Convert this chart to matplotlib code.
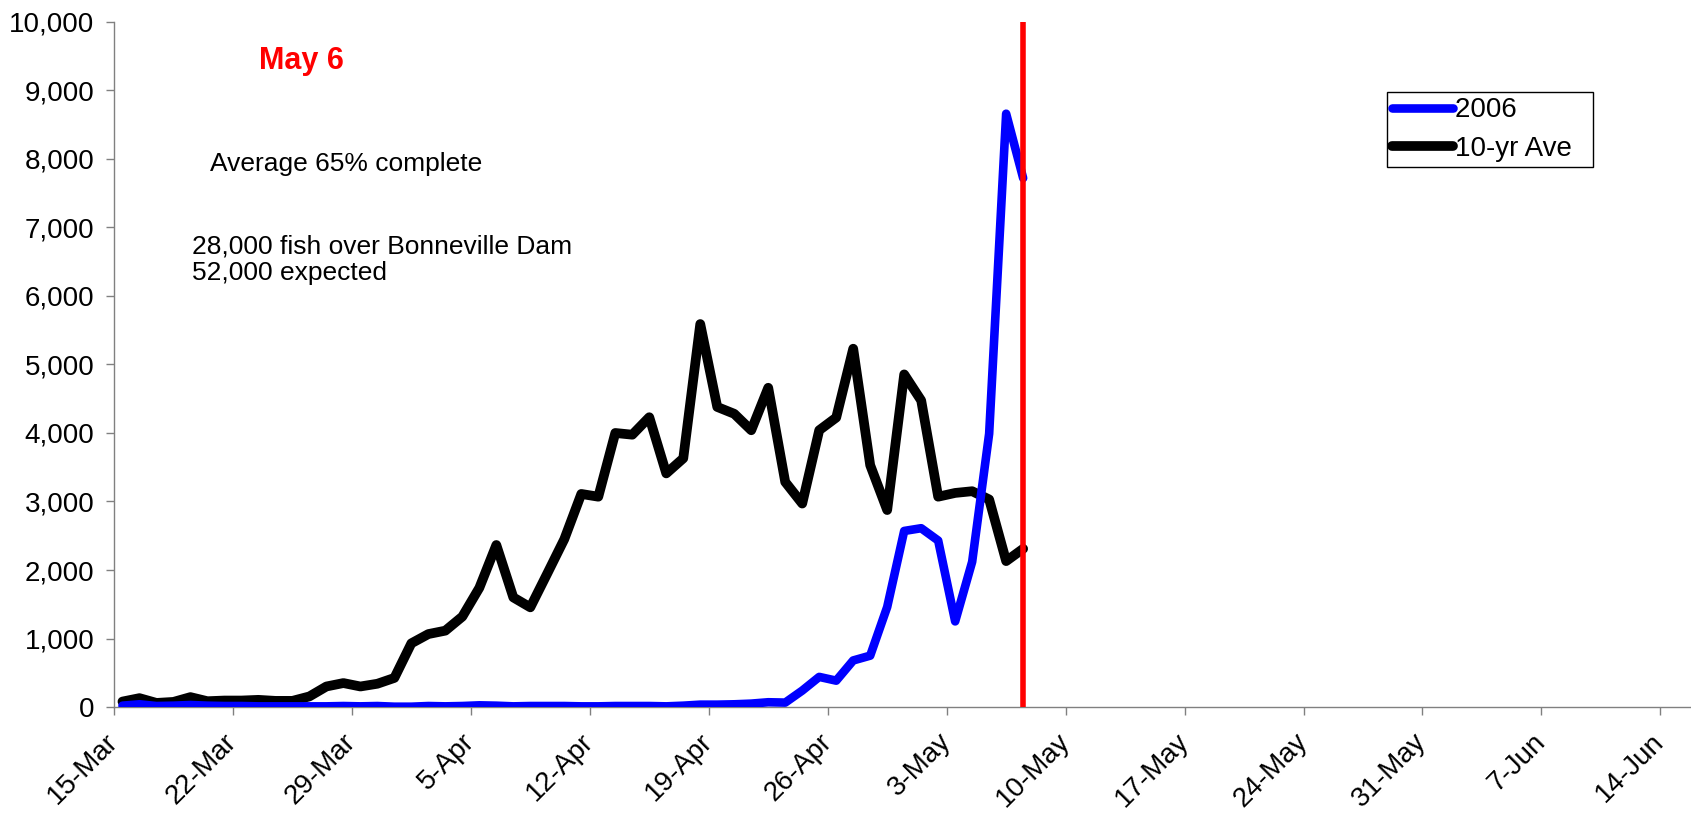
import matplotlib.pyplot as plt
import matplotlib.dates as mdates
import pandas as pd
from matplotlib.ticker import FuncFormatter, MultipleLocator

plt.rcParams['font.family'] = ['Liberation Sans', 'DejaVu Sans']

# daily counts at Bonneville Dam, starting 15-Mar
dates = pd.date_range('2006-03-15', periods=54, freq='D')

counts_2006 = [20, 40, 15, 20, 30, 20, 15, 15, 10, 10,
               10, 10, 10, 15, 10, 15, 5, 5, 15, 10,
               15, 25, 20, 10, 15, 15, 15, 10, 10, 15,
               15, 15, 10, 20, 35, 35, 40, 50, 70, 65,
               240, 440, 385, 680, 750, 1460, 2570, 2610, 2430, 1250,
               2120, 3990, 8660, 7720]

counts_avg = [80, 130, 60, 75, 145, 85, 95, 95, 105, 90,
              90, 155, 300, 350, 300, 340, 425, 930, 1065, 1115,
              1320, 1740, 2365, 1600, 1455, 1950, 2450, 3110, 3070, 4000,
              3975, 4230, 3410, 3630, 5590, 4380, 4280, 4040, 4660, 3285,
              2970, 4040, 4225, 5230, 3530, 2875, 4855, 4475, 3070, 3125,
              3150, 3030, 2130, 2310]

tick_dates = pd.date_range('2006-03-15', '2006-06-14', freq='7D')
tick_labels = [f"{d.day}-{d:%b}" for d in tick_dates]

fig = plt.figure(figsize=(16.91, 8.14), dpi=100)
ax = fig.add_axes([0.0674, 0.1314, 0.9326, 0.8417])

# each day's point sits in the middle of its date slot
x = mdates.date2num(dates) + 0.5
line_kw = dict(solid_capstyle='round', solid_joinstyle='round')
ax.plot(x, counts_avg, color='black', lw=7, zorder=2, label='10-yr Ave', **line_kw)
ax.plot(x, counts_2006, color='#0000ff', lw=6.2, zorder=3, label='2006', **line_kw)
ax.vlines(x[-1], 0, 10000, color='#ff0000', lw=4, zorder=4)

x0 = mdates.date2num(dates[0])
ax.set_xlim(x0, x0 + 92.8)
ax.set_ylim(0, 10000)
ax.set_xticks(mdates.date2num(tick_dates))
ax.set_xticklabels(tick_labels, rotation=45, ha='right', va='center',
                   rotation_mode='anchor')
ax.yaxis.set_major_locator(MultipleLocator(1000))
ax.yaxis.set_major_formatter(FuncFormatter(lambda v, _: f"{int(v):,}"))

for side in ('top', 'right'):
    ax.spines[side].set_visible(False)
for side in ('left', 'bottom'):
    ax.spines[side].set_color('#808080')
    ax.spines[side].set_linewidth(1)
ax.tick_params(axis='both', direction='out', length=6, width=1,
               color='#808080', labelsize=20, labelcolor='black')
ax.tick_params(axis='y', pad=8)
ax.tick_params(axis='x', pad=16)

handles, labels = ax.get_legend_handles_labels()
leg = ax.legend(handles[::-1], [l + '  ' for l in labels[::-1]], loc='upper left',
                bbox_to_anchor=(0.807, 0.898), borderaxespad=0,
                fontsize=20, handlelength=2.2, handletextpad=0.05,
                labelspacing=0.45, borderpad=0.2, fancybox=False,
                edgecolor='black', framealpha=1)
leg.get_frame().set_linewidth(1)

W, H = 1691, 814
fig.text(301 / W, 1 - 61 / H, 'May 6', color='#ff0000', fontsize=22,
         fontweight='bold', ha='center', va='center')
fig.text(210 / W, 1 - 164 / H, 'Average 65% complete', fontsize=19,
         ha='left', va='center')
fig.text(192 / W, 1 - 260 / H, '28,000 fish over Bonneville Dam\n52,000 expected',
         fontsize=19, ha='left', va='center', linespacing=1.15)

fig.savefig('out.png', dpi=100)
